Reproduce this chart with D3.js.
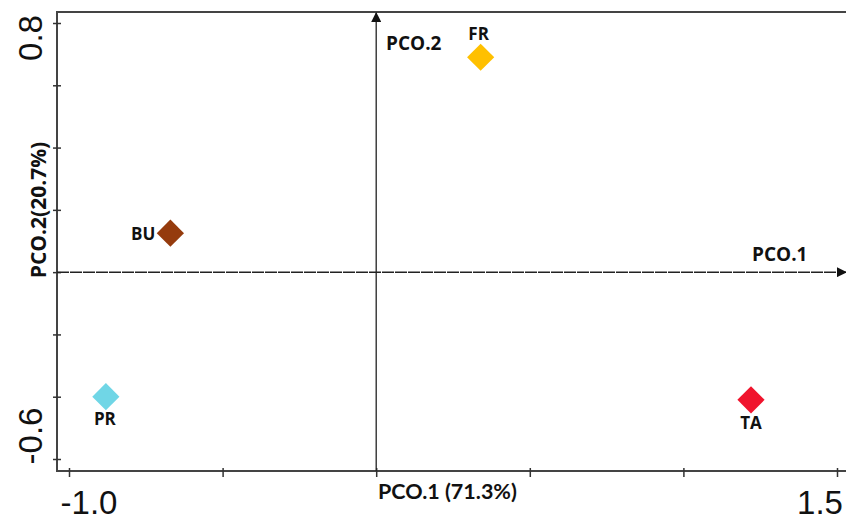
<!DOCTYPE html>
<html lang="en">
<head>
<meta charset="UTF-8">
<title>PCO biplot</title>
<script src="https://d3js.org/d3.v7.min.js"></script>
<style>
    body { margin: 0; background: #fff; }
    .tick-num { font-family: "Liberation Sans", Arial, sans-serif; font-size: 33px; fill: #111; }
    .lab { font-family: "Open Sans", "Noto Sans", sans-serif; font-weight: bold; fill: #111; }
    .lab2 { font-family: Lato, "Open Sans", sans-serif; font-weight: bold; fill: #111; }
</style>
</head>
<body>
<svg id="chart" width="846" height="523"></svg>
<script>
    // data
    const samples = ["FR", "BU", "PR", "TA"];
    const pco1 = [0.34, -0.67, -0.88, 1.22];
    const pco2 = [0.69, 0.125, -0.40, -0.41];
    const colors = ["#FFC000", "#953B0D", "#70D6E6", "#F0142D"];
    const xTicks = [-1.0, -0.5, 0, 0.5, 1.0, 1.5];
    const yTicks = [0.8, 0.6, 0.4, 0.2, 0, -0.2, -0.4, -0.6];
    const xTickLabels = ["-1.0", "1.5"];
    const yTickLabels = ["0.8", "-0.6"];

    const svg = d3.select("#chart");
    const frame = { left: 57, top: 12, right: 848, bottom: 471 };

    const x = d3.scaleLinear().domain([-1.0, 1.5]).range([69, 837]);
    const y = d3.scaleLinear().domain([-0.6, 0.8]).range([459, 23]);

    // arrow marker
    svg.append("defs").append("marker")
        .attr("id", "arrow")
        .attr("viewBox", "0 0 10 10")
        .attr("refX", 9).attr("refY", 5)
        .attr("markerWidth", 10).attr("markerHeight", 10)
        .attr("markerUnits", "userSpaceOnUse")
        .attr("orient", "auto")
        .append("path")
        .attr("d", "M0,0 L10,5 L0,10 Z")
        .attr("fill", "#111");

    // frame (left, top, bottom)
    svg.append("path")
        .attr("d", `M${frame.right},${frame.top} L${frame.left},${frame.top} L${frame.left},${frame.bottom} L${frame.right},${frame.bottom}`)
        .attr("fill", "none")
        .attr("stroke", "#444")
        .attr("stroke-width", 2);

    // ticks
    const yAxis = svg.append("g")
        .attr("transform", `translate(${frame.left + 4},0)`)
        .call(d3.axisLeft(y).tickValues(yTicks).tickSize(8).tickFormat(""));
    const xAxis = svg.append("g")
        .attr("transform", `translate(0,${frame.bottom - 3})`)
        .call(d3.axisBottom(x).tickValues(xTicks).tickSize(9).tickFormat(""));
    [yAxis, xAxis].forEach(g => {
        g.select(".domain").remove();
        g.selectAll(".tick line").attr("stroke", "#333").attr("stroke-width", 1.5);
    });

    // tick labels
    svg.selectAll(".ylab")
        .data(yTickLabels)
        .join("text")
        .attr("class", "tick-num")
        .attr("text-anchor", "middle")
        .attr("transform", (d, i) => `translate(42,${y(+d) + (i === 0 ? 15 : -23)}) rotate(-90)`)
        .text(d => d);
    svg.selectAll(".xlab")
        .data(xTickLabels)
        .join("text")
        .attr("class", "tick-num")
        .attr("text-anchor", "middle")
        .attr("x", (d, i) => x(+d) + (i === 0 ? 20 : -17))
        .attr("y", 514)
        .text(d => d);

    // origin axes
    svg.append("line")
        .attr("x1", frame.left).attr("x2", 846)
        .attr("y1", y(0)).attr("y2", y(0))
        .attr("stroke", "#222").attr("stroke-width", 1.5)
        .attr("stroke-dasharray", "12,1")
        .attr("marker-end", "url(#arrow)");
    svg.append("line")
        .attr("x1", x(0)).attr("x2", x(0))
        .attr("y1", frame.bottom).attr("y2", frame.top + 1)
        .attr("stroke", "#222").attr("stroke-width", 1.3)
        .attr("marker-end", "url(#arrow)");

    // axis titles
    svg.append("text").attr("class", "lab")
        .attr("x", 386).attr("y", 50).attr("font-size", 19)
        .text("PCO.2");
    svg.append("text").attr("class", "lab")
        .attr("x", 752).attr("y", 261).attr("font-size", 19)
        .text("PCO.1");
    svg.append("text").attr("class", "lab2")
        .attr("x", 378).attr("y", 499).attr("font-size", 21.5)
        .text("PCO.1 (71.3%)");
    svg.append("text").attr("class", "lab")
        .attr("text-anchor", "middle").attr("font-size", 21)
        .attr("transform", "translate(46,210) rotate(-90)")
        .text("PCO.2(20.7%)");

    // points
    const sym = d3.symbol().type(d3.symbolSquare).size(370);
    const pts = samples.map((s, i) => ({ s, px: pco1[i], py: pco2[i], c: colors[i] }));
    svg.selectAll(".pt")
        .data(pts)
        .join("path")
        .attr("d", sym)
        .attr("transform", d => `translate(${x(d.px)},${y(d.py)}) rotate(45)`)
        .attr("fill", d => d.c);

    // point labels
    const off = { FR: [-2, -17, "middle"], BU: [-15, 7, "end"], PR: [-1, 28, "middle"], TA: [0, 29, "middle"] };
    svg.selectAll(".ptlab")
        .data(pts)
        .join("text")
        .attr("class", "lab")
        .attr("font-size", 17)
        .attr("text-anchor", d => off[d.s][2])
        .attr("x", d => x(d.px) + off[d.s][0])
        .attr("y", d => y(d.py) + off[d.s][1])
        .text(d => d.s);
</script>
</body>
</html>
